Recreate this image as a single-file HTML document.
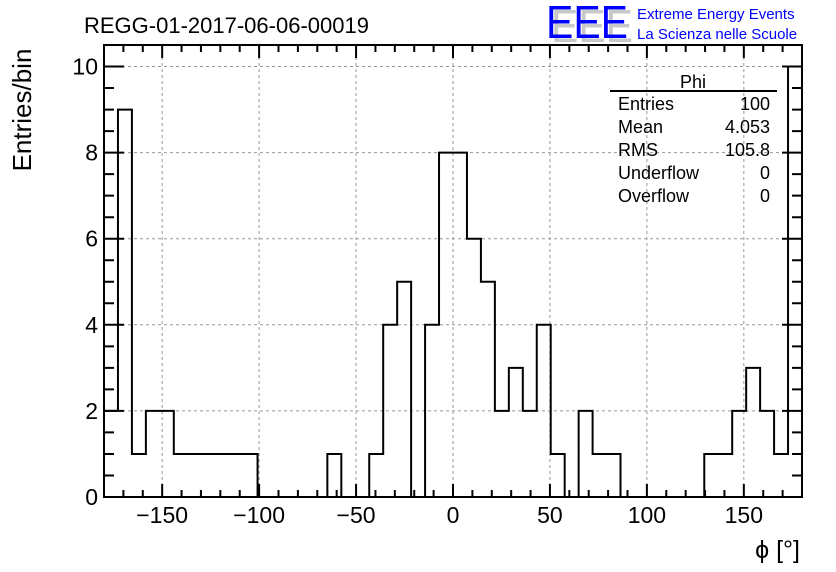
<!DOCTYPE html>
<html><head><meta charset="utf-8"><style>
html,body{margin:0;padding:0;background:#fff}
svg{display:block;font-family:"Liberation Sans",sans-serif}
</style></head><body>
<svg id="c" width="836" height="572" viewBox="0 0 836 572">
<text x="84" y="33" font-size="22" fill="#000">REGG-01-2017-06-06-00019</text>
<g>
<text x="551" y="42" font-size="46" fill="#c8c8c8" textLength="82" lengthAdjust="spacingAndGlyphs">EEE</text>
<text x="546" y="38" font-size="46" fill="#0000ff" textLength="82" lengthAdjust="spacingAndGlyphs">EEE</text>
<text x="637" y="19" font-size="15" fill="#0000ff">Extreme Energy Events</text>
<text x="637" y="39" font-size="15" fill="#0000ff">La Scienza nelle Scuole</text>
</g>
<g id="grid"></g>
<g id="ticks"></g>
<path id="hist" fill="none" stroke="#000" stroke-width="2"/>
<rect x="104" y="45" width="698" height="452" fill="none" stroke="#000" stroke-width="2"/>
<g id="labels" font-size="23" fill="#000"></g>
<text transform="translate(31,110) rotate(-90)" text-anchor="middle" font-size="26">Entries/bin</text>
<text x="800" y="558" text-anchor="end" font-size="25">ϕ [°]</text>
<g font-size="18">
<text x="693" y="88" text-anchor="middle">Phi</text>
<line x1="610" y1="91" x2="777" y2="91" stroke="#000" stroke-width="2"/>
<text x="618" y="110">Entries</text><text x="770" y="110" text-anchor="end">100</text>
<text x="618" y="133">Mean</text><text x="770" y="133" text-anchor="end">4.053</text>
<text x="618" y="156">RMS</text><text x="770" y="156" text-anchor="end">105.8</text>
<text x="618" y="179">Underflow</text><text x="770" y="179" text-anchor="end">0</text>
<text x="618" y="202">Overflow</text><text x="770" y="202" text-anchor="end">0</text>
</g>
</svg>
<script>
const binStart = -180;
const binWidth = 7.2;
const counts = [2,9,1,2,2,1,1,1,1,1,1,0,0,0,0,0,1,0,0,1,4,5,0,4,8,8,6,5,2,3,2,4,1,0,2,1,1,0,0,0,0,0,0,1,1,2,3,2,1,10];
const xTicks = [-150,-100,-50,0,50,100,150];
const yTicks = [0,2,4,6,8,10];
const X0=104,X1=802,Y0=497,Y1=45,xmin=-180,xmax=180,ymin=0,ymax=10.5;
const sx=v=>X0+(v-xmin)/(xmax-xmin)*(X1-X0);
const sy=v=>Y0-(v-ymin)/(ymax-ymin)*(Y0-Y1);
const NS="http://www.w3.org/2000/svg";
function mk(tag,attrs,parent){const e=document.createElementNS(NS,tag);for(const k in attrs)e.setAttribute(k,attrs[k]);parent.appendChild(e);return e;}
const grid=document.getElementById('grid'),ticks=document.getElementById('ticks'),labels=document.getElementById('labels');
xTicks.forEach(t=>{const l=mk('line',{x1:sx(t),x2:sx(t),y1:Y1,y2:Y0,stroke:'#999','stroke-dasharray':'3,3','stroke-width':1},grid);

const tx=mk('text',{x:sx(t),y:523,'text-anchor':'middle'},labels);tx.textContent=t<0?'\u2212'+(-t):String(t);
});
yTicks.forEach(t=>{if(t>0){const l=mk('line',{x1:X0,x2:X1,y1:sy(t),y2:sy(t),stroke:'#999','stroke-dasharray':'3,3','stroke-width':1},grid);
}
const tx=mk('text',{x:98,y:sy(t)+8,'text-anchor':'end'},labels);tx.textContent=String(t);
});
let d='';
for(let v=-180;v<=180;v+=10){const major=v%50===0;const L=major?13:7;
d+=`M${sx(v)},${Y0}v${-L}M${sx(v)},${Y1}v${L}`;}
for(let v=0;v<=10.5;v+=0.5){const major=Math.abs(v%2)<1e-9;const L=major?20:10;
d+=`M${X0},${sy(v)}h${L}M${X1},${sy(v)}h${-L}`;}
const tp=mk('path',{d:d,stroke:'#000','stroke-width':2,fill:'none'},ticks);

let h=`M${sx(binStart)},${sy(0)}`;
counts.forEach((c,i)=>{const a=binStart+i*binWidth,b=a+binWidth;const cy=sy(Math.min(c,ymax));h+=`L${sx(a)},${cy}L${sx(b)},${cy}`;});
h+=`L${sx(binStart+counts.length*binWidth)},${sy(0)}`;
document.getElementById('hist').setAttribute('d',h);
</script>
</body></html>
